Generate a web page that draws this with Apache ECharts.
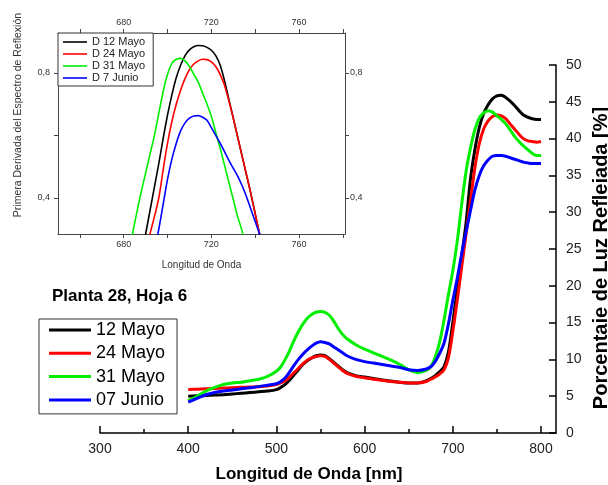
<!DOCTYPE html>
<html>
<head>
<meta charset="utf-8">
<script src="https://cdn.jsdelivr.net/npm/echarts@6/dist/echarts.min.js"></script>
<style>
  html, body { margin: 0; padding: 0; background: #fff; }
  #chart { width: 608px; height: 485px; }
</style>
</head>
<body>
<div id="chart"></div>
<script>
// espectro principal (reflectancia %)
var waveMain = [400,410,420,430,440,450,460,470,480,490,500,505,510,515,520,525,530,535,540,545,550,555,560,565,570,575,580,590,600,610,620,630,640,650,660,670,675,680,685,690,695,700,705,710,715,720,725,730,735,740,745,750,755,760,765,770,775,780,785,790,795,800];
var may12 = [5.0,5.05,5.1,5.15,5.2,5.3,5.4,5.5,5.6,5.7,5.9,6.2,6.6,7.2,7.9,8.6,9.3,9.8,10.2,10.5,10.6,10.5,10.1,9.6,9.1,8.6,8.2,7.8,7.6,7.4,7.2,7.05,6.9,6.8,6.8,7.1,7.4,7.8,8.3,9.0,11.0,15.0,19.5,24.0,28.5,34.5,38.5,41.5,43.4,44.6,45.4,45.8,45.9,45.6,45.1,44.5,43.8,43.2,42.9,42.7,42.6,42.6];
var may24 = [5.9,5.95,6.0,6.05,6.1,6.15,6.2,6.25,6.3,6.4,6.6,6.8,7.1,7.6,8.2,8.8,9.4,9.9,10.2,10.4,10.5,10.4,10.0,9.5,9.0,8.5,8.1,7.7,7.5,7.3,7.15,7.0,6.9,6.8,6.8,7.0,7.3,7.6,8.0,8.6,10.2,13.8,18.0,22.5,27.0,31.5,36.0,39.3,41.3,42.4,43.0,43.2,43.1,42.7,42.0,41.3,40.6,40.0,39.7,39.6,39.5,39.6];
var may31 = [4.4,5.0,5.7,6.2,6.6,6.8,6.9,7.1,7.3,7.7,8.4,9.0,10.0,11.2,12.6,13.8,14.8,15.6,16.1,16.4,16.5,16.4,16.0,15.2,14.2,13.4,12.8,12.0,11.4,10.9,10.4,9.9,9.3,8.6,8.2,8.5,9.0,10.3,12.3,15.3,18.8,22.0,26.0,31.0,35.5,38.7,41.2,42.8,43.5,43.8,43.6,43.1,42.6,42.0,41.2,40.3,39.6,39.0,38.5,38.0,37.7,37.7];
var jun07 = [4.2,4.7,5.2,5.5,5.7,5.85,6.0,6.15,6.3,6.5,6.7,7.0,7.5,8.3,9.2,10.0,10.7,11.3,11.8,12.2,12.4,12.3,12.1,11.7,11.3,10.9,10.5,10.0,9.7,9.5,9.3,9.1,8.9,8.6,8.5,8.7,9.0,9.7,10.8,12.2,14.8,18.0,21.0,24.3,27.3,30.2,33.0,35.0,36.3,37.1,37.6,37.7,37.7,37.6,37.4,37.2,37.0,36.8,36.7,36.6,36.6,36.6];
var mainNames = ['12 Mayo', '24 Mayo', '31 Mayo', '07 Junio'];

// primera derivada (recuadro)
var waveInset = [682,684,686,688,690,692,694,696,698,700,702,704,706,708,710,712,714,716,718,720,722,724,726,728,730,732,734,736,738,740,742,744];
var dMay12 = [null,null,null,0.21,0.285,0.36,0.435,0.51,0.59,0.665,0.73,0.785,0.825,0.855,0.873,0.883,0.887,0.886,0.881,0.872,0.855,0.825,0.775,0.715,0.655,0.595,0.535,0.475,0.415,0.35,0.285,0.22];
var dMay24 = [null,null,null,null,0.22,0.285,0.34,0.4,0.49,0.575,0.645,0.70,0.745,0.782,0.81,0.828,0.838,0.843,0.842,0.835,0.82,0.795,0.76,0.71,0.655,0.595,0.535,0.475,0.415,0.35,0.285,0.22];
var dMay31 = [0.21,0.285,0.355,0.42,0.48,0.54,0.6,0.67,0.74,0.795,0.83,0.843,0.846,0.838,0.82,0.795,0.77,0.735,0.7,0.66,0.61,0.56,0.505,0.45,0.395,0.34,0.295,0.22,null,null,null,null];
var dJun07 = [null,null,null,null,null,null,0.23,0.3,0.38,0.46,0.525,0.575,0.615,0.64,0.655,0.662,0.663,0.658,0.648,0.625,0.6,0.575,0.548,0.52,0.495,0.47,0.44,0.405,0.365,0.325,0.285,0.24];
var insetNames = ['D 12 Mayo', 'D 24 Mayo', 'D 31 Mayo', 'D 7 Junio'];

var colors = ['#000000', '#ff0000', '#00ee00', '#0000ff'];
var mainTicks = [300, 400, 500, 600, 700, 800];
var mainMinor = [350, 450, 550, 650, 750];
var insetTicks = [660, 680, 700, 720, 740, 760, 780];
var insetLabels = [680, 720, 760];
var insetYTicks = [0.4, 0.6, 0.8];
var insetYLabels = [0.4, 0.8];

var font = 'Liberation Sans, Arial, sans-serif';

function pairs(xs, ys) {
	return xs.map(function(x, i) { return [x, ys[i]]; });
}

var mainVals = [may12, may24, may31, jun07];
var insetVals = [dMay12, dMay24, dMay31, dJun07];

var series = [];
mainVals.forEach(function(v, i) {
	series.push({
		name: mainNames[i],
		type: 'line',
		xAxisIndex: 0,
		yAxisIndex: 0,
		data: pairs(waveMain, v),
		showSymbol: false,
		smooth: 0.3,
		lineStyle: { width: 3, color: colors[i] },
		itemStyle: { color: colors[i] }
	});
});
insetVals.forEach(function(v, i) {
	series.push({
		name: insetNames[i],
		type: 'line',
		xAxisIndex: 2,
		yAxisIndex: 1,
		data: pairs(waveInset, v),
		showSymbol: false,
		smooth: 0.3,
		clip: true,
		lineStyle: { width: 1.6, color: colors[i] },
		itemStyle: { color: colors[i] }
	});
});

var insetAxisLine = { show: true, lineStyle: { color: '#444', width: 1 } };
var insetLabel = { fontSize: 9, color: '#333', fontFamily: font };

var option = {
	backgroundColor: '#fff',
	animation: false,
	textStyle: { fontFamily: font },
	grid: [
		{ left: 100, right: 52, top: 65, bottom: 52 },
		{ left: 58, top: 33, width: 287, height: 201 }
	],
	xAxis: [
		{
			gridIndex: 0, type: 'value', min: 300, max: 817, position: 'bottom',
			axisLine: { lineStyle: { color: '#000', width: 1.5 } },
			axisTick: { inside: true, length: 7, customValues: mainTicks, lineStyle: { color: '#000', width: 1.5 } },
			axisLabel: { customValues: mainTicks, fontSize: 14, color: '#222', margin: 9, fontFamily: font },
			splitLine: { show: false }
		},
		{
			gridIndex: 0, type: 'value', min: 300, max: 817, position: 'bottom',
			axisLine: { show: false },
			axisTick: { inside: true, length: 4, customValues: mainMinor, lineStyle: { color: '#000', width: 1.5 } },
			axisLabel: { show: false },
			splitLine: { show: false }
		},
		{
			gridIndex: 1, type: 'value', min: 650, max: 781, position: 'bottom',
			name: 'Longitud de Onda', nameLocation: 'middle', nameGap: 26,
			nameTextStyle: { fontSize: 10, color: '#333', fontFamily: font },
			axisLine: insetAxisLine,
			axisTick: { length: 4, customValues: insetTicks, lineStyle: { color: '#444' } },
			axisLabel: Object.assign({ customValues: insetLabels, margin: 6 }, insetLabel),
			splitLine: { show: false }
		},
		{
			gridIndex: 1, type: 'value', min: 650, max: 781, position: 'top',
			axisLine: insetAxisLine,
			axisTick: { length: 4, customValues: insetTicks, lineStyle: { color: '#444' } },
			axisLabel: Object.assign({ customValues: insetLabels, margin: 6 }, insetLabel),
			splitLine: { show: false }
		}
	],
	yAxis: [
		{
			gridIndex: 0, type: 'value', min: 0, max: 50, interval: 5, position: 'right',
			axisLine: { show: true, lineStyle: { color: '#000', width: 1.5 } },
			axisTick: { show: true, inside: true, length: 7, lineStyle: { color: '#000', width: 1.5 } },
			axisLabel: { fontSize: 14, color: '#222', margin: 10, fontFamily: font },
			splitLine: { show: false }
		},
		{
			gridIndex: 1, type: 'value', min: 0.285, max: 0.927, position: 'left',
			axisLine: insetAxisLine,
			axisTick: { show: true, length: 4, customValues: insetYTicks, lineStyle: { color: '#444' } },
			axisLabel: Object.assign({ customValues: insetYLabels, margin: 8,
				formatter: function(v) { return String(v).replace('.', ','); } }, insetLabel),
			splitLine: { show: false }
		},
		{
			gridIndex: 1, type: 'value', min: 0.285, max: 0.927, position: 'right',
			axisLine: insetAxisLine,
			axisTick: { show: true, length: 4, customValues: insetYTicks, lineStyle: { color: '#444' } },
			axisLabel: Object.assign({ customValues: insetYLabels, margin: 5,
				formatter: function(v) { return String(v).replace('.', ','); } }, insetLabel),
			splitLine: { show: false }
		}
	],
	legend: [
		{
			data: mainNames,
			orient: 'vertical',
			left: 39, top: 319,
			icon: 'rect',
			itemWidth: 42, itemHeight: 3, itemGap: 5.3,
			padding: [2, 12, 5, 10],
			borderColor: '#333', borderWidth: 1,
			backgroundColor: '#fff',
			selectedMode: false,
			textStyle: { fontSize: 18, lineHeight: 18, color: '#000', fontFamily: font }
		},
		{
			data: insetNames,
			orient: 'vertical',
			left: 58, top: 33,
			icon: 'rect',
			itemWidth: 24, itemHeight: 1.6, itemGap: 0,
			padding: [3, 8, 2, 5],
			borderColor: '#333', borderWidth: 1,
			backgroundColor: '#fff',
			selectedMode: false,
			textStyle: { fontSize: 11, lineHeight: 12, color: '#222', fontFamily: font }
		}
	],
	graphic: [
		{
			type: 'text', left: 52, top: 288,
			style: { text: 'Planta 28, Hoja 6', font: 'bold 17px ' + font, fill: '#000' }
		},
		{
			type: 'text', x: 309, y: 474,
			style: { text: 'Longitud de Onda [nm]', font: 'bold 17px ' + font, fill: '#000', align: 'center', verticalAlign: 'middle' }
		},
		{
			type: 'text', x: 601, y: 258, rotation: Math.PI / 2,
			style: { text: 'Porcentaie de Luz Refleiada [%]', font: 'bold 20px ' + font, fill: '#000', align: 'center', verticalAlign: 'middle' }
		},
		{
			type: 'text', x: 18, y: 115, rotation: Math.PI / 2,
			style: { text: 'Primera Derivada del Espectro de Reflexión', font: '10.5px ' + font, fill: '#333', align: 'center', verticalAlign: 'middle' }
		}
	],
	series: series
};

var chart = echarts.init(document.getElementById('chart'));
chart.setOption(option);
</script>
</body>
</html>
